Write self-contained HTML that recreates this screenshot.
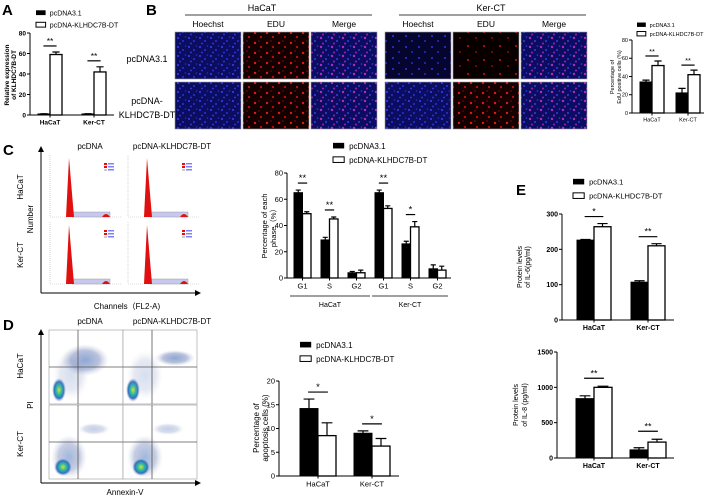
<!DOCTYPE html>
<html><head><meta charset="utf-8"><style>
html,body{margin:0;padding:0;background:#fff}
svg{display:block;font-family:"Liberation Sans",Arial,sans-serif}
</style></head><body>
<svg id="fig" width="708" height="498" viewBox="0 0 708 498" xmlns="http://www.w3.org/2000/svg">
<defs>
<pattern id="pBlue" width="11" height="9" patternUnits="userSpaceOnUse"><rect width="11" height="9" fill="#0c0c60"/><circle cx="2" cy="2" r="1.1" fill="#2a3adf"/><circle cx="7" cy="5" r="1.1" fill="#2030c0"/><circle cx="4" cy="7.5" r="0.9" fill="#3040e0"/><circle cx="9.5" cy="1" r="0.8" fill="#2530b0"/></pattern>
<pattern id="pBlueS" width="13" height="11" patternUnits="userSpaceOnUse"><rect width="13" height="11" fill="#050530"/><circle cx="3" cy="3" r="1" fill="#2a3adf"/><circle cx="9" cy="8" r="1" fill="#2030c0"/></pattern>
<pattern id="pRed" width="12" height="10" patternUnits="userSpaceOnUse"><rect width="12" height="10" fill="#150000"/><circle cx="3" cy="3" r="1.2" fill="#e01818"/><circle cx="9" cy="7" r="1.1" fill="#c01010"/><circle cx="7" cy="1" r="0.7" fill="#801010"/></pattern>
<pattern id="pRedS" width="16" height="14" patternUnits="userSpaceOnUse"><rect width="16" height="14" fill="#080000"/><circle cx="4" cy="4" r="1" fill="#d01515"/><circle cx="12" cy="10" r="0.9" fill="#a01010"/></pattern>
<pattern id="pMerge" width="11" height="9" patternUnits="userSpaceOnUse"><rect width="11" height="9" fill="#0c0c60"/><circle cx="2" cy="2" r="1.2" fill="#b028c8"/><circle cx="7" cy="5" r="1.1" fill="#2a38d0"/><circle cx="4" cy="7.5" r="1" fill="#a020b0"/><circle cx="9.5" cy="1" r="0.8" fill="#3040e0"/></pattern>
<radialGradient id="gBlob"><stop offset="0" stop-color="#e0e020"/><stop offset="0.35" stop-color="#30c0a0"/><stop offset="0.7" stop-color="#3070c0"/><stop offset="1" stop-color="#b0b8d0" stop-opacity="0"/></radialGradient>
<radialGradient id="gBlob2"><stop offset="0" stop-color="#3060b0"/><stop offset="0.6" stop-color="#8090c0"/><stop offset="1" stop-color="#c0c8d8" stop-opacity="0"/></radialGradient>
<marker id="arr" markerWidth="6" markerHeight="6" refX="3" refY="3" orient="auto"><path d="M0,0 L6,3 L0,6 z" fill="#000"/></marker>
</defs>
<g id="root"></g>
</svg>
<script>
// ---------- data ----------
const aCats = ['HaCaT','Ker-CT'];
const aCtrl = [1, 1];
const aCtrlErr = [0.3, 0.3];
const aKl = [59, 42];
const aKlErr = [2.5, 5];
const aSig = ['**','**'];
const aTicks = [0,20,40,60,80];

const bCats = ['HaCaT','Ker-CT'];
const bCtrl = [34, 22];
const bCtrlErr = [2, 5];
const bKl = [52, 42];
const bKlErr = [5, 5];
const bSig = ['**','**'];
const bTicks = [0,20,40,60,80];

const cCats = ['G1','S','G2','G1','S','G2'];
const cCtrl = [65, 29, 4, 65, 26, 7];
const cCtrlErr = [2, 2, 1, 2, 2, 3];
const cKl = [49, 45, 4, 53, 39, 6];
const cKlErr = [1.5, 1.5, 2, 2, 4, 3];
const cSig = ['**','**','','**','*',''];
const cTicks = [0,20,40,60,80];

const dCats = ['HaCaT','Ker-CT'];
const dCtrl = [14.2, 9];
const dCtrlErr = [2, 0.5];
const dKl = [8.5, 6.3];
const dKlErr = [2.7, 1.6];
const dSig = ['*','*'];
const dTicks = [0,5,10,15,20];

const e6Cats = ['HaCaT','Ker-CT'];
const e6Ctrl = [226, 107];
const e6CtrlErr = [2, 4];
const e6Kl = [264, 210];
const e6KlErr = [9, 6];
const e6Sig = ['*','**'];
const e6Ticks = [0,100,200,300];

const e8Cats = ['HaCaT','Ker-CT'];
const e8Ctrl = [840, 115];
const e8CtrlErr = [40, 30];
const e8Kl = [1000, 225];
const e8KlErr = [15, 40];
const e8Sig = ['**','**'];
const e8Ticks = [0,500,1000,1500];

// ---------- helpers ----------
const NS='http://www.w3.org/2000/svg';
const root=document.getElementById('root');
function mk(tag,attrs,parent,txt){const e=document.createElementNS(NS,tag);for(const k in attrs)e.setAttribute(k,attrs[k]);if(txt!==undefined)e.textContent=txt;(parent||root).appendChild(e);return e;}
function txt(x,y,s,fs,opts,parent){opts=opts||{};const a={x:x,y:y,'font-size':fs,fill:'#000','text-anchor':opts.anchor||'start'};if(opts.bold)a['font-weight']='bold';if(opts.rot)a.transform='rotate(-90 '+x+' '+y+')';const t=mk('text',a,parent,s);return t;}

function chart(name,L,cats,c,ce,k,ke,sig,ticks){
  const g=mk('g',{});
  
  
  const max=ticks[ticks.length-1];
  const yS=v=>L.yBot-(v/max)*(L.yBot-L.yTop);
  const xS=i=>L.firstX+i*L.step;
  const sw=L.sw||1;
  const ax=mk('line',{x1:L.ax,y1:L.yTop,x2:L.ax,y2:L.yBot,stroke:'#000','stroke-width':sw},g);
  
  
  const xa=mk('line',{x1:L.ax,y1:L.yBot,x2:L.xEnd,y2:L.yBot,stroke:'#000','stroke-width':sw},g);
  
  
  ticks.forEach(t=>{
    const y=yS(t);
    const tl=mk('line',{x1:L.ax-3,y1:y,x2:L.ax,y2:y,stroke:'#000','stroke-width':sw},g);
    
    
    txt(L.ax-4,y+L.fs*0.35,String(t),L.fs,{anchor:'end',bold:L.bold,name:'y-tick-label'},g);
  });
  cats.forEach((cat,i)=>{
    const bx=xS(i),bw=L.bw;
    const r1=mk('rect',{x:bx,y:yS(c[i]),width:bw,height:L.yBot-yS(c[i]),fill:'#000',stroke:'#000','stroke-width':1},g);
    
    
    const r2=mk('rect',{x:bx+bw,y:yS(k[i]),width:bw,height:L.yBot-yS(k[i]),fill:'#fff',stroke:'#000','stroke-width':1.3},g);
    
    
    [[bx+bw/2,c[i],ce[i]],[bx+bw*1.5,k[i],ke[i]]].forEach(([cx,v,e])=>{
      const eb=mk('path',{d:'M'+cx+','+yS(v)+' V'+yS(v+e)+' M'+(cx-bw*0.3)+','+yS(v+e)+' H'+(cx+bw*0.3),stroke:'#000','stroke-width':1.2,fill:'none'},g);
      
      
    });
    const xt=mk('line',{x1:bx+bw,y1:L.yBot,x2:bx+bw,y2:L.yBot+2.5,stroke:'#000','stroke-width':sw},g);
    
    
    txt(bx+bw,L.yBot+L.fs+3,cat,L.fs,{anchor:'middle',bold:L.bold,name:'x-tick-label'},g);
    if(sig[i]){
      const top=Math.max(c[i]+ce[i],k[i]+ke[i]);
      const ly=yS(top)-(L.sigGap||6);
      const sl=mk('line',{x1:bx+bw*0.45,y1:ly,x2:bx+bw*1.55,y2:ly,stroke:'#000','stroke-width':1.2},g);
      
      
      txt(bx+bw,ly-2,sig[i],L.fs+2,{anchor:'middle',name:'significance-mark'},g);
    }
  });
  return g;
}
function legend(x,y,dy,fs,sq){
  const g=mk('g',{});
  
  
  const b=mk('rect',{x:x,y:y-sq*0.45,width:sq*1.6,height:sq*0.8,fill:'#000'},g);
  
  
  txt(x+sq*2.3,y+fs*0.35,'pcDNA3.1',fs,{name:'legend-entry'},g);
  const w=mk('rect',{x:x,y:y+dy-sq*0.45,width:sq*1.6,height:sq*0.8,fill:'#fff',stroke:'#000','stroke-width':1},g);
  
  
  txt(x+sq*2.3,y+dy+fs*0.35,'pcDNA-KLHDC7B-DT',fs,{name:'legend-entry'},g);
}

// ---------- panel letters ----------
[['A',2,15],['B',146,15],['C',3,155],['D',3,330],['E',516,195]].forEach(([l,x,y])=>txt(x,y,l,15,{bold:true,name:'panel-label-'+l.toLowerCase()}));

// ---------- A ----------
legend(36,13,12,7,6);
chart('chart-a-relative-expression',{ax:30,yTop:33,yBot:115,xEnd:114,firstX:38,step:44,bw:12,fs:6.5,bold:true,sigGap:6},aCats,aCtrl,aCtrlErr,aKl,aKlErr,aSig,aTicks);
txt(9,75,'Relative expression',6.5,{rot:true,anchor:'middle',bold:true,name:'y-axis-title'});
txt(16,75,'of KLHDC7B-DT',6.5,{rot:true,anchor:'middle',bold:true,name:'y-axis-title'});

// ---------- B microscopy ----------
txt(262,11,'HaCaT',9,{anchor:'middle',name:'group-title-hacat'});
mk('line',{x1:185,y1:15,x2:372,y2:15,stroke:'#000','stroke-width':0.8});
txt(491,11,'Ker-CT',9,{anchor:'middle',name:'group-title-kerct'});
mk('line',{x1:399,y1:15,x2:586,y2:15,stroke:'#000','stroke-width':0.8});
const colX=[175,243,311,385,453,521];
const colNames=['Hoechst','EDU','Merge','Hoechst','EDU','Merge'];
colNames.forEach((n,i)=>txt(colX[i]+33,27,n,8.5,{anchor:'middle',name:'column-header'}));
const fills=[['pBlue','pRed','pMerge','pBlueS','pRedS','pMerge'],['pBlue','pRed','pMerge','pBlue','pRed','pMerge']];
[32,82].forEach((ry,r)=>colX.forEach((cx,i)=>{
  const im=mk('rect',{x:cx,y:ry,width:66,height:47,fill:'url(#'+fills[r][i]+')',stroke:'#999','stroke-width':0.6});
  
  
}));
txt(147,62,'pcDNA3.1',9,{anchor:'middle',name:'row-label'});
txt(147,104,'pcDNA-',9,{anchor:'middle',name:'row-label'});
txt(147,118,'KLHDC7B-DT',9,{anchor:'middle',name:'row-label'});

// ---------- B chart ----------
legend(637,25,9,5.5,5.5);
chart('chart-b-edu',{ax:632,yTop:40,yBot:113,xEnd:704,firstX:640,step:36,bw:12,fs:5.5,sigGap:5},bCats,bCtrl,bCtrlErr,bKl,bKlErr,bSig,bTicks);
txt(614,77,'Percentage of',5.5,{rot:true,anchor:'middle',name:'y-axis-title'});
txt(621,77,'EdU positive cells (%)',5.5,{rot:true,anchor:'middle',name:'y-axis-title'});

// ---------- C flow histograms ----------
txt(90,149,'pcDNA',8,{anchor:'middle',name:'column-header'});
txt(172,149,'pcDNA-KLHDC7B-DT',8,{anchor:'middle',name:'column-header'});
mk('line',{x1:41,y1:293,x2:41,y2:149,stroke:'#000','stroke-width':1,'marker-end':'url(#arr)'});
mk('line',{x1:41,y1:293,x2:198,y2:293,stroke:'#000','stroke-width':1,'marker-end':'url(#arr)'});
[[50,155],[128,155],[50,222],[128,222]].forEach(([x,y])=>{
  const g=mk('g',{});
  
  
  mk('path',{d:'M'+x+','+y+' V'+(y+62)+' H'+(x+72),stroke:'#bbb','stroke-width':0.6,'stroke-dasharray':'1,1',fill:'none'},g);
  mk('path',{d:'M'+(x+22)+','+(y+62)+' H'+(x+60)+' V'+(y+57)+' H'+(x+22)+' z',fill:'#c8c8ec',stroke:'#889','stroke-width':0.4},g);
  mk('path',{d:'M'+(x+16)+','+(y+62)+' L'+(x+19)+','+(y+3)+' L'+(x+24)+','+(y+62)+' z',fill:'#e01010'},g);
  mk('path',{d:'M'+(x+52)+','+(y+62)+' Q'+(x+56)+','+(y+56)+' '+(x+60)+','+(y+62)+' z',fill:'#e01010'},g);
  for(let j=0;j<3;j++){mk('rect',{x:x+54,y:y+8+j*3,width:3,height:2,fill:j<2?'#e01010':'#ccc'},g);mk('rect',{x:x+58,y:y+8+j*3,width:6,height:1.5,fill:'#8080ff'},g);}
});
txt(23,187,'HaCaT',8,{rot:true,anchor:'middle',name:'row-label'});
txt(23,255,'Ker-CT',8,{rot:true,anchor:'middle',name:'row-label'});
txt(33,219,'Number',8,{rot:true,anchor:'middle',name:'y-axis-title'});
txt(127,309,'Channels（FL2-A)',8,{anchor:'middle',name:'x-axis-title'});

// ---------- C chart ----------
legend(333,146,14,8,7);
chart('chart-c-cell-cycle',{ax:287,yTop:173,yBot:278,xEnd:451,firstX:294,step:27,bw:8.5,fs:7.5,sigGap:7},cCats,cCtrl,cCtrlErr,cKl,cKlErr,cSig,cTicks);
mk('line',{x1:290,y1:296,x2:370,y2:296,stroke:'#000','stroke-width':0.8});
mk('line',{x1:372,y1:296,x2:448,y2:296,stroke:'#000','stroke-width':0.8});
txt(330,307,'HaCaT',7,{anchor:'middle',name:'group-label'});
txt(410,307,'Ker-CT',7,{anchor:'middle',name:'group-label'});
txt(267,226,'Percentage of each',7.5,{rot:true,anchor:'middle',name:'y-axis-title'});
txt(276,226,'phase（%）',7.5,{rot:true,anchor:'middle',name:'y-axis-title'});

// ---------- D scatter ----------
txt(90,324,'pcDNA',8,{anchor:'middle',name:'column-header'});
txt(172,324,'pcDNA-KLHDC7B-DT',8,{anchor:'middle',name:'column-header'});
mk('line',{x1:41,y1:483,x2:41,y2:332,stroke:'#000','stroke-width':1,'marker-end':'url(#arr)'});
mk('line',{x1:41,y1:483,x2:198,y2:483,stroke:'#000','stroke-width':1,'marker-end':'url(#arr)'});
[[49,330,0],[123,330,0],[49,405,1],[123,405,1]].forEach(([x,y,r],i)=>{
  const g=mk('g',{});
  
  
  mk('rect',{x:x,y:y,width:74,height:74,fill:'#fff',stroke:'#999','stroke-width':0.6},g);
  if(r===0){
    mk('ellipse',{cx:x+(i?52:36),cy:y+(i?28:30),rx:(i?20:24),ry:(i?8:16),fill:'url(#gBlob2)',opacity:0.55},g);
    mk('ellipse',{cx:x+10,cy:y+60,rx:7,ry:12,fill:'url(#gBlob)'},g);
    mk('ellipse',{cx:x+22,cy:y+45,rx:18,ry:25,fill:'url(#gBlob2)',opacity:0.2},g);
  }else{
    mk('ellipse',{cx:x+45,cy:y+24,rx:16,ry:6,fill:'url(#gBlob2)',opacity:0.3},g);
    mk('ellipse',{cx:x+(i==3?22:20),cy:y+52,rx:18,ry:22,fill:'url(#gBlob2)',opacity:0.45},g);
    mk('ellipse',{cx:x+(i==3?18:14),cy:y+62,rx:9,ry:9,fill:'url(#gBlob)'},g);
  }
  mk('line',{x1:x+29,y1:y,x2:x+29,y2:y+74,stroke:'#555','stroke-width':0.8},g);
  mk('line',{x1:x,y1:y+37,x2:x+74,y2:y+37,stroke:'#555','stroke-width':0.8},g);
});
txt(23,366,'HaCaT',8,{rot:true,anchor:'middle',name:'row-label'});
txt(23,444,'Ker-CT',8,{rot:true,anchor:'middle',name:'row-label'});
txt(33,405,'PI',8,{rot:true,anchor:'middle',name:'y-axis-title'});
txt(125,495,'Annexin-V',8,{anchor:'middle',name:'x-axis-title'});

// ---------- D chart ----------
legend(300,345,14,8,7);
chart('chart-d-apoptosis',{ax:279,yTop:381,yBot:476,xEnd:399,firstX:300,step:54,bw:18,fs:7.5,bold:false,sigGap:7},dCats,dCtrl,dCtrlErr,dKl,dKlErr,dSig,dTicks);
txt(259,428,'Percentage of',8,{rot:true,anchor:'middle',name:'y-axis-title'});
txt(268,428,'apoptosis cells (%)',8,{rot:true,anchor:'middle',name:'y-axis-title'});

// ---------- E ----------
legend(573,182,14,7.5,7);
chart('chart-e-il6',{ax:562,yTop:214,yBot:320,xEnd:674,firstX:577,step:54,bw:17,fs:7,bold:true,sigGap:7},e6Cats,e6Ctrl,e6CtrlErr,e6Kl,e6KlErr,e6Sig,e6Ticks);
txt(522,267,'Protein levels',7,{rot:true,anchor:'middle',name:'y-axis-title'});
txt(530,267,'of IL-6(pg/ml)',7,{rot:true,anchor:'middle',name:'y-axis-title'});
chart('chart-e-il8',{ax:557,yTop:352,yBot:458,xEnd:674,firstX:576,step:54,bw:18,fs:7,bold:true,sigGap:8},e8Cats,e8Ctrl,e8CtrlErr,e8Kl,e8KlErr,e8Sig,e8Ticks);
txt(518,405,'Protein levels',7,{rot:true,anchor:'middle',name:'y-axis-title'});
txt(527,405,'of IL-8 (pg/ml)',7,{rot:true,anchor:'middle',name:'y-axis-title'});
</script>
</body></html>
